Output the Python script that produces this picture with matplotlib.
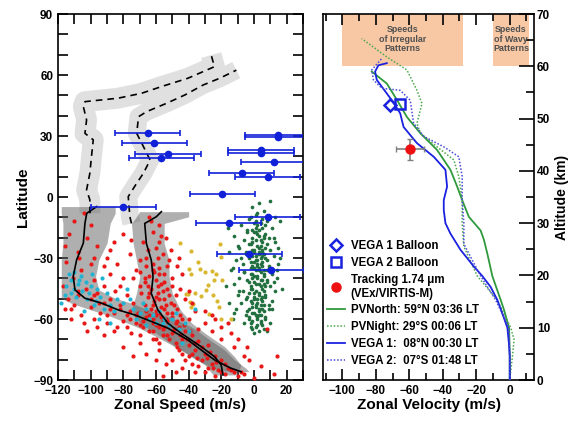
import numpy as np
import matplotlib
matplotlib.use("Agg")
import matplotlib.pyplot as plt
from matplotlib.ticker import MultipleLocator

# =========================================================
# Fonts
# =========================================================

plt.rcParams["font.family"] = ["Liberation Sans", "DejaVu Sans"]
plt.rcParams["font.weight"] = "bold"
plt.rcParams["axes.labelweight"] = "bold"

# =========================================================
# Left panel data (latitude vs zonal speed)
# =========================================================

# dashed profiles (upper), with light envelopes
dash_a_lat = [-8, -1.4, 3.5, 11.7, 19.9, 28.1, 31.3, 37.9, 44.5, 46.9, 48.6, 51, 54.3, 58.4, 64.1, 69.8]
dash_a_v = [-100.4, -100.5, -102.5, -100.5, -99.5, -98.4, -103.5, -102.5, -104.5, -103.5, -83.2, -68.9, -56.7, -40.5, -24.2, -26.2]

dash_b_lat = [-13, -9.7, 0.2, 6.8, 11.7, 18.2, 24.8, 31.3, 39.5, 42, 46.1, 50.2, 55.1, 58.4, 62.4]
dash_b_v = [-75, -76, -77, -71.8, -67.7, -63.6, -67.7, -71.8, -70.7, -65.7, -53.5, -42.3, -31.1, -21, -10.8]

# solid profiles (lower), with dark envelopes
solid_c_lat = [-4.7, -8, -12.9, -22.7, -30.9, -39.1, -45.7, -49.8, -52.2, -55.5, -58, -61.2, -64.5, -70.3, -75.2, -80.1, -84.2, -85.9]
solid_c_v = [-96.3, -102.4, -103.5, -104.5, -108.6, -110.7, -109.6, -103.5, -93.3, -83.2, -73, -62.9, -52.7, -40.5, -32.4, -24.2, -14.1, -8]
env_c_lo = [-118, -118, -117, -117, -118, -118, -118, -118, -112, -100, -90, -80, -70, -56, -45, -35, -25, -15]
env_c_hi = [-85, -85, -88, -90, -95, -97, -95, -85, -75, -65, -55, -45, -37, -27, -18, -12, -5, -3]

solid_d_lat = [-7.2, -9.7, -13, -22.8, -31, -39.2, -47.4, -55.6, -62.1, -67, -73.6, -78.5, -82.6, -87.5]
solid_d_v = [-56.7, -59.8, -66.9, -65.9, -62.9, -61.8, -62.9, -58.8, -52.7, -44.6, -32.4, -24.2, -20.1, -19]
env_d_lo = [-70, -72, -75, -74, -72, -70, -72, -75, -70, -60, -48, -38, -30, -25]
env_d_hi = [-40, -40, -55, -55, -52, -52, -50, -45, -38, -30, -18, -12, -8, -10]

# blue points with horizontal error bars
blue_v = [-65.2, -61.1, -52.6, -56.7, 14.4, 14.4, 4.3, 4.3, 12, -7.5, 8.4, -19.4, -80, 8.3, -15.6, -2.8, 10.6]
blue_lat = [31.6, 26.4, 21, 19.4, 30.4, 29.6, 23.1, 21.5, 17.4, 12, 9.7, 1.5, -4.8, -9.7, -13, -28, -35.9]
blue_err = 20

# green cloud
green_v = [3, 10, -1, 6, 1, 13, -3, 8, 16, -8, 2, 5, 11, -4, 0, 7, -12, 3, 9, -6, 1, 5, 13, -2, 4, -9, 7, 0, 10,
           -15, 3, -5, 6, 1, 12, -3, 4, -11, 8, 0, -7, 2, 15, 5, -2, 9, -14, 1, -6, 4, 11, -1, 6, -9, 2, 14, -4,
           0, 8, -12, 3, -2, 10, 5, -7, 1, 13, -3, 7, -10, 0, 4, -5, 11, 2, -8, 6, -1, 9, -4, 3, -12, 1, 7, -3,
           4, -6, 2, 10, -1, 8, -16, -17, -15, 16, 17, -13,
           1, 4, -1, 2, 6, -1, 3, 5, -1, 2, 5, -1, 3, 6, 0, 4, 7, -1, 3, 5, -2, 1, 5, -1, 4, 2, -2, 5]
green_lat = [-3, -2, -5, -7, -9, -10, -11, -12, -12, -14, -14, -15, -15, -17, -17, -18, -19, -19, -20, -21, -21,
             -22, -22, -23, -24, -25, -25, -26, -26, -27, -27, -28, -28, -29, -29, -30, -30, -31, -31, -32, -33,
             -33, -33, -34, -35, -35, -36, -36, -37, -37, -38, -38, -39, -40, -40, -40, -41, -42, -42, -43, -43,
             -44, -44, -45, -46, -46, -46, -47, -48, -48, -49, -50, -50, -51, -52, -52, -53, -54, -55, -56, -56,
             -57, -58, -59, -60, -61, -62, -63, -62, -65, -66, -15, -44, -52, -30, -45, -60,
             -12, -13, -16, -18, -20, -22, -25, -27, -29, -31, -32, -34, -35, -36, -39, -41, -44, -45, -47, -49,
             -51, -53, -55, -57, -58, -59, -62, -63]

# more of the dense green core, as (speed, latitude)
green_core = [(2, -8), (-2, -10), (5, -11), (0, -13), (7, -14), (3, -16), (-4, -16), (1, -17), (6, -19),
              (-1, -20), (4, -21), (8, -23), (-3, -23), (2, -24), (5, -26), (0, -27), (-5, -27), (3, -28),
              (7, -30), (1, -31), (-2, -32), (4, -33), (9, -34), (0, -35), (3, -36), (-6, -37), (6, -38),
              (2, -39), (-1, -40), (5, -41), (8, -41), (-3, -42), (1, -43), (4, -44), (-2, -45), (6, -46),
              (0, -47), (3, -48), (7, -49), (-4, -49), (2, -50), (5, -51), (-1, -52), (4, -53), (9, -53),
              (1, -54), (-3, -55), (6, -56), (0, -57), (3, -58), (-5, -58), (2, -60), (7, -60), (-1, -61),
              (4, -62), (1, -64), (-2, -64), (6, -65), (3, -66), (0, -67), (12, -20), (-10, -24), (14, -36),
              (-9, -46), (11, -55), (-13, -35), (15, -25), (-11, -55), (12, -42), (-8, -30), (1, -15),
              (-1, -26), (5, -29), (2, -34), (-2, -38), (6, -43), (0, -50), (3, -55), (-3, -59), (8, -36)]

# yellow cloud
yellow_v = [-45.5, -38.4, -21.1, -34.3, -20.5, -39.8, -33.3, -30.3, -25.6, -38.4, -23.2, -24.2, -19.5, -28.2,
            -29.3, -40.4, -41.5, -36.4, -32.3, -25.2, -39.4, -37.4, -22.6, -21.2, -27.8, -20.1, -14, -38.8]
yellow_lat = [-22.5, -26.6, -23.3, -31.9, -29.4, -35.6, -35.6, -36.8, -36.3, -37.9, -37.9, -40.6, -40.6, -43.4,
              -45.8, -47.8, -47.7, -47, -48.7, -48, -51.5, -52.6, -51, -54, -57.6, -60.2, -60.2, -54]

# red cloud
red_v = [-104, -110, -100, -113, -102, -96, -108, -115, -100, -106, -111, -98, -117, -103, -108, -114, -96,
         -90, -84, -76, -88, -80, -72, -92, -85, -78, -70, -74, -82, -88, -94,
         -64, -58, -62, -54, -68, -60, -56, -66, -52, -62, -58, -70, -55, -64, -60, -50, -67, -57, -63, -53,
         -69, -59, -48, -65, -55, -61, -51, -67, -57, -63, -47, -53, -71, -60, -66, -50, -56, -44, -62, -76,
         -52, -58, -46, -70, -80, -64, -42, -50, -56, -38, -44, -60, -34, -48, -40, -28, -36, -30, -44, -24,
         -32, -20, -26, -38, -16, -22, -12, -30, -18, -8, 0, 12, -50, -58, -36, -4, -10, -14, -20, -30, -26,
         -36, -40, -34, -84, -90, -98, -106, -100, -110, -116, -92, -75, -70, -80, -66, -54, -44, -3, 14, 8,
         -46, -80, -45, -42, -75,
         -62, -58, -65, -56, -60, -54, -66, -58, -62, -54, -48, -56, -52, -46, -40, -34, -28, -24,
         -108, -100, -92, -86, -78, -72, -96, -104, -112]
red_lat = [-8, -12, -14, -18, -20, -24, -27, -32, -33, -36, -40, -41, -44, -45, -48, -50, -47,
           -30, -33, -28, -38, -40, -36, -44, -46, -48, -44, -52, -53, -55, -57,
           -10, -14, -17, -20, -22, -25, -28, -30, -31, -33, -35, -37, -38, -39, -41, -40, -42, -43, -45, -45,
           -47, -47, -48, -49, -50, -51, -52, -53, -54, -55, -55, -57, -57, -58, -59, -59, -61, -60, -62, -60,
           -63, -64, -64, -63, -61, -66, -66, -67, -68, -68, -70, -70, -71, -72, -73, -73, -75, -77, -77, -78,
           -80, -80, -82, -82, -84, -85, -86, -86, -87, -86, -89, -87, -80, -75, -86, -74, -70, -67, -64, -62,
           -58, -56, -60, -65, -64, -62, -60, -58, -54, -53, -55, -68, -67, -72, -74, -77, -82, -84, -80, -78,
           -65, -30, -18, -45, -50, -21,
           -36, -38, -44, -46, -49, -53, -56, -57, -60, -60, -62, -65, -70, -75, -78, -83, -84, -88,
           -46, -50, -52, -57, -58, -62, -64, -62, -60]

# more red points along the dense band, as (speed, latitude)
red_band = [(-63, -12), (-57, -19), (-65, -26), (-59, -30), (-53, -34), (-61, -37), (-67, -40), (-55, -42),
            (-50, -44), (-59, -44), (-64, -47), (-52, -48), (-58, -50), (-62, -53), (-49, -53), (-55, -55),
            (-60, -56), (-45, -58), (-50, -57), (-64, -58), (-57, -59), (-68, -61), (-53, -61), (-47, -61),
            (-60, -63), (-43, -63), (-55, -64), (-49, -65), (-62, -66), (-39, -66), (-45, -68), (-53, -68),
            (-58, -72), (-41, -70), (-36, -72), (-47, -74), (-32, -74), (-38, -77), (-27, -76), (-42, -80),
            (-29, -79), (-23, -81), (-35, -79), (-18, -82), (-25, -84), (-14, -85), (-20, -86), (-10, -88),
            (-6, -87), (-98, -48), (-88, -50), (-95, -52), (-82, -55), (-76, -56), (-90, -58), (-72, -58),
            (-68, -64), (-78, -64), (-86, -66), (-102, -66), (-62, -70), (-70, -68), (-74, -78), (-60, -80),
            (-48, -86), (-56, -88), (-116, -24), (-107, -30), (-98, -30), (-112, -55), (-88, -26), (-82, -44),
            (-74, -40), (-92, -34), (-86, -22), (-44, -38), (-40, -46), (-38, -52), (-30, -56), (-24, -60),
            (-20, -70), (-12, -74), (-16, -62), (-26, -66), (-6, -78), (4, -83), (-66, -34), (-70, -31),
            (-51, -26), (-47, -34), (-58, -22)]

# cyan cloud
cyan_v = [-110, -106, -112, -103, -108, -115, -100, -105, -96, -112, -109, -118, -102, -94, -90, -98, -92, -86,
          -84, -80, -78, -74, -70, -66, -62, -58, -55, -60, -52, -48, -46, -66, -72, -36, -40, -44, -88, -95,
          -104, -93, -99,
          -113, -107, -101, -110, -116, -97, -88, -76, -68, -64, -56, -50, -42]
cyan_lat = [-37, -39, -41, -42, -43, -44, -44, -46, -45, -47, -49, -52, -50, -49, -47, -53, -55, -56, -50, -52,
            -45, -55, -57, -55, -58, -56, -60, -62, -63, -57, -65, -63, -60, -55, -66, -72, -62, -60, -56, -40,
            -38,
            -38, -41, -47, -45, -48, -51, -53, -50, -52, -60, -62, -60, -62]

# =========================================================
# Right panel data (altitude vs zonal velocity)
# =========================================================

alt_pvn = [0, 5, 10, 13.4, 15.3, 19.9, 24.2, 26.8, 28.6, 31.2, 34.4, 37, 40.2, 44, 47.2, 50.3, 53.6, 56.7, 59]
v_pvn = [0, 0, -0.4, -3.4, -5.4, -10.4, -13.4, -15.4, -17.4, -24.4, -28.4, -31.4, -35.4, -43.4, -53.4, -61.4,
         -67.4, -73.4, -82.4]

alt_pvnt = [0, 4.5, 7.7, 10, 15.3, 19.9, 25.5, 30, 34.4, 38.9, 42.1, 44.6, 47.2, 49.1, 52.9, 55.4, 59.3, 61.8, 65.3]
v_pvnt = [0, 1.6, 2.6, 0.6, -7.4, -19.4, -27.4, -28.4, -28.4, -30.4, -33.4, -43.4, -53.4, -55.4, -52.4, -55.4,
          -61.4, -73.4, -88.4]

alt_v1 = [0, 4.5, 7, 10, 12.7, 15.3, 17.8, 19.9, 21.7, 24.9, 28, 30, 32.5, 34.4, 37, 40.2, 42.7, 45.3, 48.4, 51,
          53.5, 56.1, 57.4, 59, 60.2, 60.6]
v_v1 = [0, 0, -0.5, -1.4, -4.4, -7.4, -11.4, -16.4, -21.4, -29.4, -35.4, -38.4, -39.4, -39.4, -37.4, -38.4, -45.4,
        -55.4, -63.4, -65.4, -70.4, -76.4, -79.4, -80.4, -78.4, -73.4]

alt_v2 = [0, 5, 10, 15.3, 19.9, 26, 30, 34.4, 38.9, 42.7, 44.6, 46.6, 49.1, 53.5, 55.4, 55.8, 57.4, 59.3, 61.5]
v_v2 = [0, 0, -0.4, -8.4, -17.4, -27.4, -27.4, -28.4, -28.4, -30.4, -39.4, -51.4, -57.4, -59.4, -65.4, -76.4,
        -81.4, -82.4, -76.4]

vega1_balloon = (-71.4, 52.6)
vega2_balloon = (-65.8, 52.8)
tracking_pt = (-59.4, 44.1)
tracking_err = (8.4, 2.0)

irregular_range = [-100, -28]
wavy_range = [-10, 11.5]
pattern_alt = [60, 70]

# =========================================================
# Figure
# =========================================================

fig = plt.figure(figsize=(5.72, 4.22), dpi=100)
ax1 = fig.add_axes([0.1014, 0.0995, 0.4283, 0.8673])
ax2 = fig.add_axes([0.5647, 0.0995, 0.3689, 0.8673])

# ---------------- left panel ----------------

ax1.plot(dash_a_v, dash_a_lat, color="#e0e0e0", linewidth=15, solid_capstyle="butt",
         solid_joinstyle="round", zorder=1)
ax1.plot(dash_b_v, dash_b_lat, color="#e0e0e0", linewidth=13, solid_capstyle="butt",
         solid_joinstyle="round", zorder=1)

ax1.fill_betweenx(solid_c_lat, env_c_lo, env_c_hi, color="#606060", alpha=0.5, linewidth=0, zorder=2)
ax1.fill_betweenx(solid_d_lat, env_d_lo, env_d_hi, color="#606060", alpha=0.5, linewidth=0, zorder=2)

ax1.plot(dash_a_v, dash_a_lat, color="black", linewidth=1.2, dashes=(4, 3), zorder=3)
ax1.plot(dash_b_v, dash_b_lat, color="black", linewidth=1.2, dashes=(4, 3), zorder=3)

gc = np.array(green_core)
rb = np.array(red_band)
ax1.scatter(green_v, green_lat, s=7, color="#22703f", linewidths=0, zorder=4)
ax1.scatter(gc[:, 0], gc[:, 1], s=7, color="#22703f", linewidths=0, zorder=4)
ax1.scatter(yellow_v, yellow_lat, s=9, color="#d8b830", linewidths=0, zorder=4)
ax1.scatter(red_v, red_lat, s=9, color="#e81818", linewidths=0, zorder=5)
ax1.scatter(rb[:, 0], rb[:, 1], s=9, color="#e81818", linewidths=0, zorder=5)
ax1.scatter(cyan_v, cyan_lat, s=9, color="#20b4d2", linewidths=0, zorder=6)

ax1.plot(solid_c_v, solid_c_lat, color="black", linewidth=1.2, zorder=7)
ax1.plot(solid_d_v, solid_d_lat, color="black", linewidth=1.2, zorder=7)

ax1.errorbar(blue_v, blue_lat, xerr=blue_err, fmt="o", color="#1020d8", markersize=4.5,
             elinewidth=1.2, capsize=2.5, capthick=1.2, zorder=8)

ax1.set_xlim(-120, 30)
ax1.set_ylim(-90, 90)
ax1.xaxis.set_major_locator(MultipleLocator(20))
ax1.xaxis.set_minor_locator(MultipleLocator(10))
ax1.yaxis.set_major_locator(MultipleLocator(30))
ax1.yaxis.set_minor_locator(MultipleLocator(10))
ax1.tick_params(which="both", direction="in", top=True, right=True, length=7, width=1.2, labelsize=8.5)
ax1.set_xlabel("Zonal Speed (m/s)", fontsize=11, labelpad=1)
ax1.set_ylabel("Latitude", fontsize=11, labelpad=2)
for s in ax1.spines.values():
    s.set_linewidth(1.2)

# ---------------- right panel ----------------

ax2.fill_between(irregular_range, pattern_alt[0], pattern_alt[1], color="#f8c8a4", linewidth=0, zorder=1)
ax2.fill_between(wavy_range, pattern_alt[0], pattern_alt[1], color="#f8c8a4", linewidth=0, zorder=1)
ax2.text(np.mean(irregular_range), 65.2, "Speeds\nof Irregular\nPatterns", ha="center", va="center",
         fontsize=6.4, color="#505050", linespacing=1.1, zorder=2)
ax2.text(np.mean(wavy_range), 65.2, "Speeds\nof Wavy\nPatterns", ha="center", va="center",
         fontsize=6.4, color="#505050", linespacing=1.1, zorder=2)

ax2.plot(v_pvn, alt_pvn, color="#2f9a3c", linewidth=1.3, label="PVNorth: 59\u00b0N 03:36 LT", zorder=3)
ax2.plot(v_pvnt, alt_pvnt, color="#4aa84a", linewidth=1.1, linestyle=(0, (1, 1.2)),
         label="PVNight: 29\u00b0S 00:06 LT", zorder=3)
ax2.plot(v_v1, alt_v1, color="#1a22e0", linewidth=1.3, label="VEGA 1:  08\u00b0N 00:30 LT", zorder=3)
ax2.plot(v_v2, alt_v2, color="#4848d8", linewidth=1.1, linestyle=(0, (1, 1.2)),
         label="VEGA 2:  07\u00b0S 01:48 LT", zorder=3)

ax2.plot(*vega1_balloon, marker="D", markersize=6, markerfacecolor="none", markeredgecolor="#1a22e0",
         markeredgewidth=1.8, linestyle="none", label="VEGA 1 Balloon", zorder=4)
ax2.plot(*vega2_balloon, marker="s", markersize=7, markerfacecolor="none", markeredgecolor="#1a22e0",
         markeredgewidth=1.8, linestyle="none", label="VEGA 2 Balloon", zorder=4)
ax2.errorbar(tracking_pt[0], tracking_pt[1], xerr=tracking_err[0], yerr=tracking_err[1], fmt="none",
             ecolor="#808080", elinewidth=1.2, capsize=2.5, zorder=4)
ax2.plot(*tracking_pt, marker="o", markersize=6.5, color="#ee1010", linestyle="none",
         label="Tracking 1.74 \u03bcm\n(VEx/VIRTIS-M)", zorder=5)

handles, labels = ax2.get_legend_handles_labels()
order = [4, 5, 6, 0, 1, 2, 3]
ax2.legend([handles[i] for i in order], [labels[i] for i in order], loc="lower left",
           bbox_to_anchor=(-0.01, 0.02), frameon=False, fontsize=8.3, handlelength=1.6,
           handletextpad=0.5, labelspacing=0.42, borderpad=0.0)

ax2.set_xlim(-111.5, 14.5)
ax2.set_ylim(0, 70)
ax2.set_xticks([-100, -80, -60, -40, -20, 0])
ax2.xaxis.set_minor_locator(MultipleLocator(10))
ax2.yaxis.set_major_locator(MultipleLocator(10))
ax2.yaxis.set_minor_locator(MultipleLocator(5))
ax2.yaxis.tick_right()
ax2.yaxis.set_label_position("right")
ax2.tick_params(axis="x", which="major", direction="in", top=True, length=8, width=1.2, labelsize=8.5)
ax2.tick_params(axis="x", which="minor", direction="in", top=True, length=5, width=1.2)
ax2.tick_params(axis="y", which="major", direction="in", left=False, right=True, length=11, width=1.2,
                labelsize=8.5, pad=2)
ax2.tick_params(axis="y", which="minor", direction="in", left=False, right=True, length=6, width=1.2)
ax2.set_xlabel("Zonal Velocity (m/s)", fontsize=11, labelpad=1)
ax2.set_ylabel("Altitude (km)", fontsize=10)
ax2.yaxis.set_label_coords(1.1, 0.5)
for s in ax2.spines.values():
    s.set_linewidth(1.2)

plt.savefig("out.png", dpi=100)
plt.close()
